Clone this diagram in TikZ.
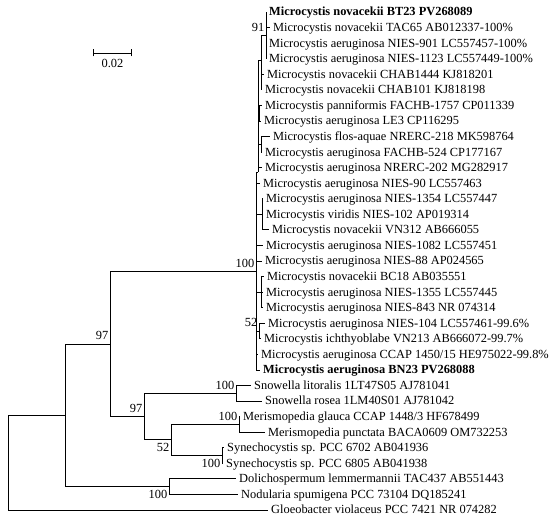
\documentclass[tikz,border=0pt]{standalone}
\usepackage{fontspec}
\setmainfont{Liberation Serif}
% y position of leaf row #1 (rows counted from the top, 0 first)
\newcommand{\rowy}[1]{12+15.56*#1}
\newcommand{\treefont}{\fontsize{12.4}{14}\selectfont}

\begin{document}
\begin{tikzpicture}[x=1pt, y=-1pt,
                    leaf/.style ={anchor=west, inner xsep=3pt, inner ysep=0pt,
                        text height=9pt, text depth=1pt, font=\treefont},
                    leafbold/.style ={leaf, font=\treefont\bfseries},
                    bsup/.style ={anchor=base east, inner sep=0pt, xshift=-1.5pt, yshift=4pt,
                        font=\treefont},
                    bsdown/.style ={anchor=base east, inner sep=0pt, xshift=-1.5pt, yshift=-12pt,
                        font=\treefont},
                    branch/.style ={draw, line width=0.75pt}]
    \useasboundingbox (0,0) rectangle (550,521);

    % scale bar
    \coordinate (sbl) at (93,53);
    \coordinate (sbr) at (132,53);
    \draw[branch, |-|] (sbl) -- (sbr);
    \node[inner sep=0pt, text height=9pt, text depth=1pt, font=\treefont]
        (sblab) at (112.5,64) {0.02};

    % Microcystis leaves
    \node[leafbold] (bt23)    at (266,\rowy{0})  {Microcystis novacekii BT23 PV268089};
    \node[leaf] (tac65)       at (270,\rowy{1})  {Microcystis novacekii TAC65 AB012337-100\%};
    \node[leaf] (nies901)     at (266,\rowy{2})  {Microcystis aeruginosa NIES-901 LC557457-100\%};
    \node[leaf] (nies1123)    at (266,\rowy{3})  {Microcystis aeruginosa NIES-1123 LC557449-100\%};
    \node[leaf] (chab1444)    at (264,\rowy{4})  {Microcystis novacekii CHAB1444 KJ818201};
    \node[leaf] (chab101)     at (262,\rowy{5})  {Microcystis novacekii CHAB101 KJ818198};
    \node[leaf] (fachb1757)   at (262,\rowy{6})  {Microcystis panniformis FACHB-1757 CP011339};
    \node[leaf] (le3)         at (261,\rowy{7})  {Microcystis aeruginosa LE3 CP116295};
    \node[leaf] (nrerc218)    at (270,\rowy{8})  {Microcystis flos-aquae NRERC-218 MK598764};
    \node[leaf] (fachb524)    at (262,\rowy{9})  {Microcystis aeruginosa FACHB-524 CP177167};
    \node[leaf] (nrerc202)    at (262,\rowy{10}) {Microcystis aeruginosa NRERC-202 MG282917};
    \node[leaf] (nies90)      at (260,\rowy{11}) {Microcystis aeruginosa NIES-90 LC557463};
    \node[leaf] (nies1354)    at (263,\rowy{12}) {Microcystis aeruginosa NIES-1354 LC557447};
    \node[leaf] (nies102)     at (263,\rowy{13}) {Microcystis viridis NIES-102 AP019314};
    \node[leaf] (vn312)       at (269,\rowy{14}) {Microcystis novacekii VN312 AB666055};
    \node[leaf] (nies1082)    at (263,\rowy{15}) {Microcystis aeruginosa NIES-1082 LC557451};
    \node[leaf] (nies88)      at (262,\rowy{16}) {Microcystis aeruginosa NIES-88 AP024565};
    \node[leaf] (bc18)        at (264,\rowy{17}) {Microcystis novacekii BC18 AB035551};
    \node[leaf] (nies1355)    at (263,\rowy{18}) {Microcystis aeruginosa NIES-1355 LC557445};
    \node[leaf] (nies843)     at (263,\rowy{19}) {Microcystis aeruginosa NIES-843 NR 074314};
    \node[leaf] (nies104)     at (265,\rowy{20}) {Microcystis aeruginosa NIES-104 LC557461-99.6\%};
    \node[leaf] (vn213)       at (261,\rowy{21}) {Microcystis ichthyoblabe VN213 AB666072-99.7\%};
    \node[leaf] (ccap1450)    at (258,\rowy{22}) {Microcystis aeruginosa CCAP 1450/15 HE975022-99.8\%};
    \node[leafbold] (bn23)    at (260,\rowy{23}) {Microcystis aeruginosa BN23 PV268088};
    % other cyanobacteria
    \node[leaf] (snolit)      at (251,\rowy{24}) {Snowella litoralis 1LT47S05 AJ781041};
    \node[leaf] (snoros)      at (262,\rowy{25}) {Snowella rosea 1LM40S01 AJ781042};
    \node[leaf] (merglau)     at (240,\rowy{26}) {Merismopedia glauca CCAP 1448/3 HF678499};
    \node[leaf] (merpunc)     at (265,\rowy{27}) {Merismopedia punctata BACA0609 OM732253};
    \node[leaf] (syn6702)     at (224,\rowy{28}) {Synechocystis sp. PCC 6702 AB041936};
    \node[leaf] (syn6805)     at (223,\rowy{29}) {Synechocystis sp. PCC 6805 AB041938};
    \node[leaf] (dolich)      at (236,\rowy{30}) {Dolichospermum lemmermannii TAC437 AB551443};
    \node[leaf] (nodul)       at (238,\rowy{31}) {Nodularia spumigena PCC 73104 DQ185241};
    \node[leaf] (gloeo)       at (268,\rowy{32}) {Gloeobacter violaceus PCC 7421 NR 074282};

    % inner nodes of the tree
    \coordinate (n91)  at (266,35.4);
    \coordinate (mq1)  at (261,60);
    \coordinate (mq2)  at (259,113.1);
    \coordinate (mq3)  at (261,144.3);
    \coordinate (mtop) at (258,172);
    \coordinate (mq4)  at (262,214.3);
    \coordinate (mq5)  at (261,292.1);
    \coordinate (n52m) at (259,331);
    \coordinate (micro) at (256,271.6);
    \coordinate (nsno) at (236,393.2);
    \coordinate (nmer) at (239,424.3);
    \coordinate (nsyn) at (222,455.4);
    \coordinate (nms)  at (171,439.8);
    \coordinate (nsms) at (144,416.5);
    \coordinate (nchr) at (110,344);
    \coordinate (nnos) at (169,486.6);
    \coordinate (ningr) at (65,415.3);
    \coordinate (root) at (8,462.6);

    % connecting nodes with elbow branches
    \begin{scope}[every path/.style=branch]
        \foreach \mum/\kid in {n91/bt23.west, n91/tac65.west, n91/nies901.west, n91/nies1123.west,
                mq1/n91, mq1/chab1444.west, mq1/chab101.west,
                mq2/fachb1757.west, mq2/le3.west,
                mq3/nrerc218.west, mq3/fachb524.west,
                mtop/mq1, mtop/mq2, mtop/mq3, mtop/nrerc202.west,
                mq4/nies1354.west, mq4/nies102.west, mq4/vn312.west,
                mq5/bc18.west, mq5/nies1355.west, mq5/nies843.west,
                n52m/nies104.west, n52m/vn213.west,
                micro/mtop, micro/nies90.west, micro/mq4, micro/nies1082.west, micro/nies88.west,
                micro/mq5, micro/n52m, micro/ccap1450.west, micro/bn23.west,
                nsno/snolit.west, nsno/snoros.west,
                nmer/merglau.west, nmer/merpunc.west,
                nsyn/syn6702.west, nsyn/syn6805.west,
                nms/nmer, nms/nsyn,
                nsms/nsno, nsms/nms,
                nchr/micro, nchr/nsms,
                nnos/dolich.west, nnos/nodul.west,
                ningr/nchr, ningr/nnos,
                root/ningr, root/gloeo.west}
            \path (\mum) |- (\kid);
    \end{scope}

    % bootstrap values
    \node[bsup] (bs91)    at (n91)   {91};
    \node[bsup] (bsmicro) at (micro) {100};
    \node[bsup] (bs52m)   at (n52m)  {52};
    \node[bsup] (bschr)   at (nchr)  {97};
    \node[bsup] (bssms)   at (nsms)  {97};
    \node[bsup] (bssno)   at (nsno)  {100};
    \node[bsup] (bsmer)   at (nmer)  {100};
    \node[bsdown] (bsms)  at (nms)   {52};
    \node[bsdown] (bssyn) at (nsyn)  {100};
    \node[bsdown] (bsnos) at (nnos)  {100};
\end{tikzpicture}
\end{document}
